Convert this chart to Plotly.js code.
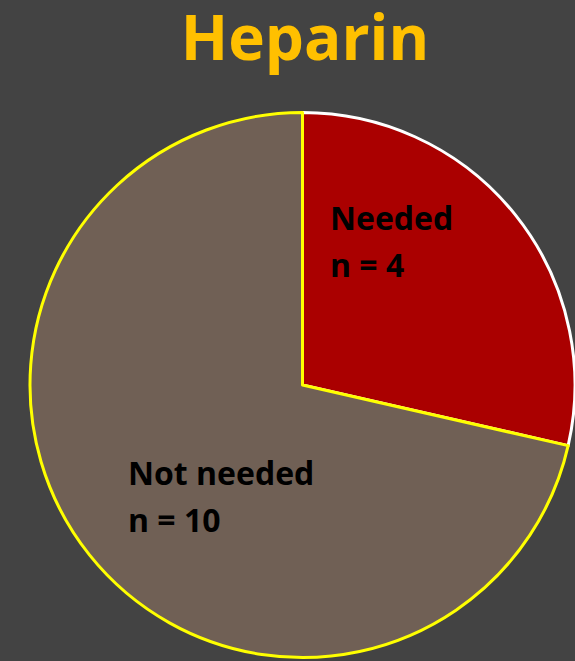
<!DOCTYPE html>
<html>
<head>
<meta charset="utf-8">
<script src="https://cdn.plot.ly/plotly-3.0.1.min.js"></script>
<style>html,body{margin:0;padding:0;background:#434343;}#chart{width:575px;height:661px;}</style>
</head>
<body>
<div id="chart"></div>
<script>
const labels = ["Needed", "Not needed"];
const values = [4, 10];
const sliceColors = ["#AA0000", "#706055"];
const lineColors = ["#FFFFFF", "#FFFF00"];
const titleText = "Heparin";

const W = 575, H = 661;
// [x-left, y-middle of label line, y-middle of count line] in pixels
const annPos = [[328, 217, 264], [126, 472, 519]];
const annFont = {family: "'Open Sans', sans-serif", size: 32, color: "#000000", weight: "bold"};
const annotations = [];
labels.forEach((l, i) => {
  const lines = [l, "n = " + values[i]];
  lines.forEach((t, j) => {
    annotations.push({
      text: t,
      xref: "paper", yref: "paper",
      x: annPos[i][0] / W, y: 1 - annPos[i][1 + j] / H,
      xanchor: "left", yanchor: "middle", align: "left",
      showarrow: false,
      font: annFont
    });
  });
});

const data = [{
  type: "pie",
  labels: labels,
  values: values,
  sort: false,
  direction: "clockwise",
  rotation: 0,
  textinfo: "none",
  hoverinfo: "none",
  marker: {colors: sliceColors, line: {color: lineColors, width: 3}},
  domain: {x: [30 / W, 1], y: [(H - 658) / H, (H - 112) / H]},
  showlegend: false
}];

const layout = {
  width: W, height: H,
  margin: {l: 0, r: 0, t: 0, b: 0},
  paper_bgcolor: "#434343",
  plot_bgcolor: "#434343",
  title: {
    text: "<b>" + titleText + "</b>",
    font: {family: "'Open Sans', sans-serif", size: 62, color: "#FFC000"},
    x: 305 / W, xanchor: "center",
    y: 1 - 38 / H, yanchor: "middle"
  },
  annotations: annotations,
  showlegend: false
};

Plotly.newPlot("chart", data, layout, {displayModeBar: false, staticPlot: true});
</script>
</body>
</html>
